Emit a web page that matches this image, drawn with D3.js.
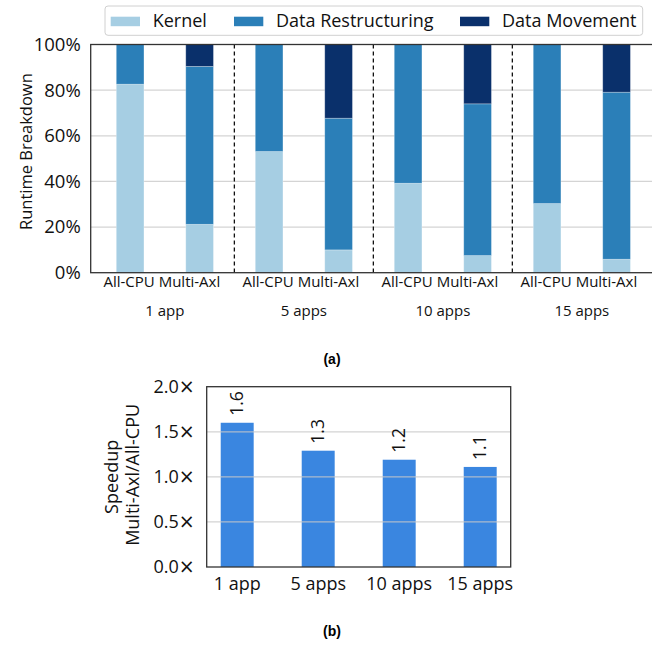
<!DOCTYPE html>
<html><head><meta charset="utf-8">
<script src="https://cdn.jsdelivr.net/npm/d3@7"></script>
<style>body{margin:0;background:#fff}svg{display:block;font-family:"Open Sans",sans-serif}</style>
</head><body>
<svg id="c" width="652" height="646"></svg>
<script>
// ---- data ----
const groups = ["1 app", "5 apps", "10 apps", "15 apps"];
const configs = ["All-CPU", "Multi-Axl"];
const seriesNames = ["Kernel", "Data Restructuring", "Data Movement"];
// percent values per bar (group x config)
const kernel = [82.6, 21.2, 53.1, 10.0, 39.2, 7.5, 30.3, 5.9];
const dataRestructuring = [17.4, 69.2, 46.9, 57.7, 60.8, 66.5, 69.7, 73.2];
const dataMovement = [0, 9.6, 0, 32.3, 0, 26.0, 0, 20.9];
const pctTicks = [0, 20, 40, 60, 80, 100];
const speedup = [1.6, 1.29, 1.19, 1.11];
const speedupLabels = ["1.6", "1.3", "1.2", "1.1"];
const speedupTicks = [0, 0.5, 1.0, 1.5, 2.0];

const colors = ["#a6cee3", "#2b7fb8", "#0a306b"];
const svg = d3.select("#c");

// ---------- chart (a) ----------
const A = {l: 90.7, r: 656, t: 44.5, b: 272.7};
const bars = [];
groups.forEach((g, gi) => configs.forEach((c, ci) => {
  const i = gi * 2 + ci;
  bars.push({id: g + "|" + c, g, c, Kernel: kernel[i], "Data Restructuring": dataRestructuring[i], "Data Movement": dataMovement[i]});
}));
const xa = d3.scaleBand().domain(bars.map(d => d.id)).range([A.l, A.r]).paddingInner(0.6015).paddingOuter(0.368);
const ya = d3.scaleLinear().domain([0, 100]).range([A.b, A.t]);
const ga = svg.append("g");
// grid
ga.append("g").selectAll("line").data(pctTicks.filter(t => t > 0 && t < 100)).join("line")
  .attr("x1", A.l).attr("x2", A.r).attr("y1", d => ya(d)).attr("y2", d => ya(d))
  .attr("stroke", "#d4d4d4").attr("stroke-width", 1.3);
const stack = d3.stack().keys(seriesNames)(bars);
ga.append("g").selectAll("g").data(stack).join("g").attr("fill", (d, i) => colors[i])
  .selectAll("rect").data(d => d).join("rect")
  .attr("x", d => xa(d.data.id)).attr("width", xa.bandwidth())
  .attr("y", d => ya(d[1])).attr("height", d => Math.max(0, ya(d[0]) - ya(d[1])))
  .attr("stroke", "rgba(255,255,255,0.35)").attr("stroke-width", 0.8);
// dashed separators
const seps = groups.slice(0, -1).map((g, gi) => (xa(g + "|Multi-Axl") + xa.bandwidth() / 2 + xa(groups[gi + 1] + "|All-CPU") + xa.bandwidth() / 2) / 2);
ga.append("g").selectAll("line").data(seps).join("line")
  .attr("x1", d => d).attr("x2", d => d).attr("y1", A.t).attr("y2", A.b)
  .attr("stroke", "#111").attr("stroke-width", 1.3).attr("stroke-dasharray", "4,3");
// frame
ga.append("rect").attr("x", A.l).attr("y", A.t).attr("width", A.r - A.l).attr("height", A.b - A.t)
  .attr("fill", "none").attr("stroke", "#333").attr("stroke-width", 1.3);
// y axis
const yAxA = d3.axisLeft(ya).tickValues(pctTicks).tickFormat(d => d + "%").tickSize(0).tickPadding(10);
ga.append("g").attr("transform", `translate(${A.l},0)`).call(yAxA)
  .call(g => g.select(".domain").remove())
  .selectAll("text").attr("font-size", 18.5).attr("font-family", "Open Sans").attr("fill", "#111");
ga.append("text").attr("transform", `translate(32,${(A.t + A.b) / 2 - 7}) rotate(-90)`)
  .attr("text-anchor", "middle").attr("font-size", 16.5).attr("fill", "#111").text("Runtime Breakdown");
// x labels
groups.forEach(g => {
  const cx = (xa(g + "|All-CPU") + xa(g + "|Multi-Axl") + xa.bandwidth()) / 2;
  ga.append("text").attr("x", cx - 3).attr("y", 287).attr("text-anchor", "middle")
    .attr("font-size", 15).attr("fill", "#111").text(configs.join(" "));
  ga.append("text").attr("x", cx).attr("y", 316).attr("text-anchor", "middle")
    .attr("font-size", 15).attr("fill", "#111").text(g);
});
svg.append("text").attr("x", 332).attr("y", 364).attr("text-anchor", "middle")
  .attr("font-size", 14).attr("font-weight", "bold").attr("font-family", "Liberation Sans").text("(a)");
// legend
const lg = svg.append("g");
lg.append("rect").attr("x", 105).attr("y", 6).attr("width", 537.7).attr("height", 29.3).attr("rx", 3)
  .attr("fill", "#fff").attr("stroke", "#d0d0d0").attr("stroke-width", 1);
const legX = [110.7, 234, 460];
seriesNames.forEach((s, i) => {
  lg.append("rect").attr("x", legX[i]).attr("y", 16.7).attr("width", 29.3).attr("height", 9.5).attr("fill", colors[i]);
  lg.append("text").attr("x", legX[i] + 42).attr("y", 27).attr("font-size", 18).attr("fill", "#111").text(s);
});

// ---------- chart (b) ----------
const B = {l: 206.7, r: 510.7, t: 386.7, b: 567};
const xb = d3.scaleBand().domain(groups).range([B.l, B.r]).paddingInner(0.593).paddingOuter(0.173);
const yb = d3.scaleLinear().domain([0, 2]).range([B.b, B.t]);
const gb = svg.append("g");
gb.append("g").selectAll("rect").data(speedup).join("rect")
  .attr("x", (d, i) => xb(groups[i])).attr("width", xb.bandwidth())
  .attr("y", d => yb(d)).attr("height", d => yb(0) - yb(d)).attr("fill", "#3a86e0");
gb.append("g").selectAll("line").data(speedupTicks.filter(t => t > 0 && t < 2)).join("line")
  .attr("x1", B.l).attr("x2", B.r).attr("y1", d => yb(d)).attr("y2", d => yb(d))
  .attr("stroke", "#c8c8c8").attr("stroke-opacity", 0.8).attr("stroke-width", 1.3);
gb.append("rect").attr("x", B.l).attr("y", B.t).attr("width", B.r - B.l).attr("height", B.b - B.t)
  .attr("fill", "none").attr("stroke", "#333").attr("stroke-width", 1.3);
gb.append("g").selectAll("text").data(speedup).join("text")
  .attr("transform", (d, i) => `translate(${xb(groups[i]) + xb.bandwidth() / 2 + 6},${yb(d) - 7}) rotate(-90)`)
  .attr("font-size", 17.5).attr("fill", "#111").text((d, i) => speedupLabels[i]);
const yAxB = d3.axisLeft(yb).tickValues(speedupTicks).tickFormat(d => d3.format(".1f")(d)).tickSize(0).tickPadding(12);
gb.append("g").attr("transform", `translate(${B.l},0)`).call(yAxB)
  .call(g => g.select(".domain").remove())
  .selectAll("text").attr("font-size", 18).attr("font-family", "Open Sans").attr("fill", "#111")
  .each(function () {
    const t = d3.select(this);
    const v = t.text();
    t.text(v);
    t.append("tspan").attr("font-family", "DejaVu Sans").attr("font-size", 19).text("×");
  });
const xAxB = d3.axisBottom(xb).tickSize(0).tickPadding(10);
gb.append("g").attr("transform", `translate(0,${B.b})`).call(xAxB)
  .call(g => g.select(".domain").remove())
  .selectAll("text").attr("font-size", 18).attr("font-family", "Open Sans").attr("fill", "#111");
gb.append("text").attr("transform", `translate(118,${(B.t + B.b) / 2}) rotate(-90)`)
  .attr("text-anchor", "middle").attr("font-size", 18).attr("fill", "#111").text("Speedup");
gb.append("text").attr("transform", `translate(139,${(B.t + B.b) / 2 - 2}) rotate(-90)`)
  .attr("text-anchor", "middle").attr("font-size", 18).attr("fill", "#111").text("Multi-Axl/All-CPU");
svg.append("text").attr("x", 332).attr("y", 636).attr("text-anchor", "middle")
  .attr("font-size", 14).attr("font-weight", "bold").attr("font-family", "Liberation Sans").text("(b)");
</script>
</body></html>
